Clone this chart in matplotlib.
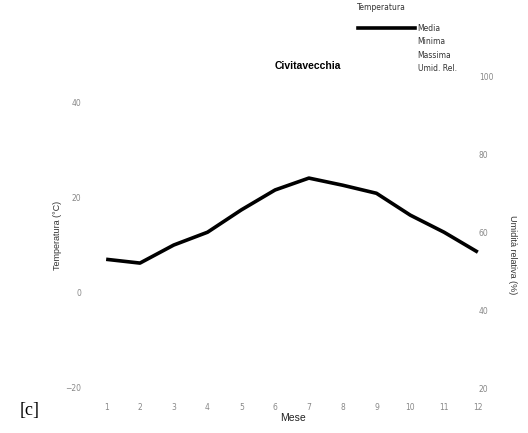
import matplotlib
matplotlib.use("Agg")
import matplotlib.pyplot as plt
from matplotlib.lines import Line2D

# monthly mean temperature, Civitavecchia
mesi = [1, 2, 3, 4, 5, 6, 7, 8, 9, 10, 11, 12]
temp_media = [6.9, 6.1, 9.9, 12.6, 17.3, 21.5, 24.0, 22.5, 20.8, 16.2, 12.6, 8.4]

temp_ticks = [-20, 0, 20, 40]
umid_ticks = [20, 40, 60, 80, 100]
legenda = ["Media", "Minima", "Massima", "Umid. Rel."]

W, H = 528, 433
fig = plt.figure(figsize=(W / 100, H / 100), dpi=100)

# axes box in pixels: left 95, right 490, top 76, bottom 392
ax = fig.add_axes([95 / W, 1 - 392 / H, (490 - 95) / W, (392 - 76) / H])
ax.plot(mesi, temp_media, color="black", lw=2.6, solid_capstyle="butt")
ax.set_xlim(0.67, 12.36)
ax.set_ylim(-21.05, 45.5)
ax.set_xticks(mesi)
ax.set_yticks(temp_ticks)
ax.tick_params(length=0, labelsize=5.5, labelcolor="#888888")
ax.tick_params(axis="y", pad=10)
ax.tick_params(axis="x", pad=8)
for s in ax.spines.values():
    s.set_visible(False)

ax2 = ax.twinx()
ax2.set_ylim(19, 100)
ax2.set_yticks(umid_ticks)
ax2.tick_params(length=0, labelsize=5.5, labelcolor="#888888", pad=-8)
for s in ax2.spines.values():
    s.set_visible(False)

fig.text(308 / W, 1 - 66 / H, "Civitavecchia", ha="center", va="center",
         fontsize=7.5, fontweight="bold", family="Liberation Sans")
fig.text(293 / W, 1 - 418 / H, "Mese", ha="center", va="center",
         fontsize=7.5, color="#222222", family="Liberation Sans")
fig.text(58 / W, 1 - 235 / H, "Temperatura (°C)", rotation=90, ha="center",
         va="center", fontsize=6.5, color="#333333", family="Liberation Sans")
fig.text(512 / W, 1 - 255 / H, "Umidità relativa (%)", rotation=270, ha="center",
         va="center", fontsize=6.5, color="#333333", family="Liberation Sans")
fig.text(20 / W, 1 - 410 / H, "[c]", ha="left", va="center", fontsize=13,
         family="Liberation Serif")

# legend: title placed apart, entries below
fig.text(381 / W, 1 - 7 / H, "Temperatura", ha="center", va="center",
         fontsize=5.5, color="#333333")
handles = [Line2D([], [], color="black", lw=2.6)] + \
          [Line2D([], [], color="white", lw=0) for _ in legenda[1:]]
leg = fig.legend(handles, legenda, loc="upper left",
                 bbox_to_anchor=(352 / W, 1 - 18 / H), frameon=False,
                 fontsize=5.5, handlelength=7.5,
                 handletextpad=0.3, labelspacing=0.55, borderpad=0.3)
for t in leg.get_texts():
    t.set_color("#333333")

fig.savefig("out.png", dpi=100)
